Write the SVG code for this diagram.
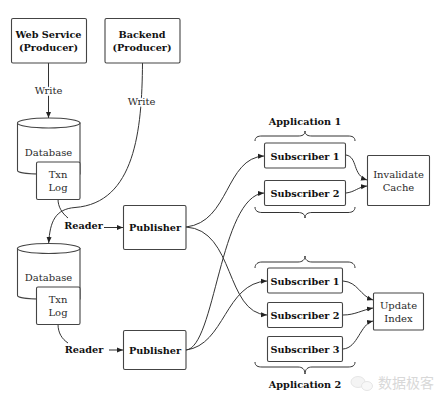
<svg xmlns="http://www.w3.org/2000/svg" width="446" height="405" viewBox="0 0 446 405">
<style>
text{font-family:"DejaVu Serif","Liberation Serif",serif;font-size:10px;fill:#2a2a2a;text-anchor:middle}
.b{font-weight:bold;fill:#111;font-size:9.700px}
.n{fill:#fff;stroke:#444;stroke-width:1.1}
.c{fill:none;stroke:#333;stroke-width:1}
.a{marker-end:url(#m)}
.l{paint-order:stroke;stroke:#fff;stroke-width:3px}
</style>
<defs><marker id="m" markerWidth="7" markerHeight="6" refX="6" refY="3" orient="auto" markerUnits="userSpaceOnUse"><path d="M0 0.500L6 3L0 5.500Z" fill="#222"/></marker></defs>
<rect width="446" height="405" fill="#fff"/>
<g id="connectors">
<path class="c a" d="M48.500 63V118"/>
<path class="c a" d="M142.500 63C142 130 135 203 75 207.500C55 209 50 222 48.700 243"/>
<path class="c" d="M58 199C58 207 62 213 68 218"/>
<path class="c a" d="M104 227.500H123"/>
<path class="c" d="M58 324C58 333 62 339 68 343"/>
<path class="c a" d="M109 350H123"/>
<path class="c a" d="M186 227C230 222 225 158 264 156"/>
<path class="c a" d="M186 227C235 230 225 313 267 315"/>
<path class="c a" d="M186 350C215 348 220 196 264 193"/>
<path class="c a" d="M186 350C225 345 225 283 267 281"/>
<path class="c a" d="M346 155C358 157 352 175 367 180"/>
<path class="c a" d="M346 193C355 192 358 187 367 186"/>
<path class="c a" d="M343 281C358 282 360 296 373 300"/>
<path class="c a" d="M343 315C355 315 362 310 373 308"/>
<path class="c a" d="M343 349C358 348 360 324 373 321"/>
</g>
<g id="web-service"><rect class="n" x="11.500" y="18.500" width="75" height="44.500" rx="1.500"/><text class="b" x="48.500" y="38">Web Service</text><text class="b" x="48.500" y="51">(Producer)</text></g>
<g id="backend"><rect class="n" x="105" y="18.500" width="75" height="44.500" rx="1.500"/><text class="b" x="142" y="38">Backend</text><text class="b" x="142" y="51">(Producer)</text></g>
<g id="write-1"><text class="l" x="48.500" y="94">Write</text></g>
<g id="write-2"><text class="l" x="141.500" y="105">Write</text></g>
<g id="database-1"><path class="n" d="M17.500 123V170.500C17.500 172.500 28 174 40 174H80V123Z"/><ellipse class="n" cx="48.700" cy="123" rx="31.300" ry="5"/><text x="48.500" y="156">Database</text></g>
<g id="txn-log-1"><rect class="n" x="36.500" y="162" width="43.500" height="37.500" rx="1.500"/><text x="58" y="178">Txn</text><text x="58" y="191">Log</text></g>
<g id="database-2"><path class="n" d="M17.500 248.500V295.500C17.500 297.500 28 299 40 299H80V248.500Z"/><ellipse class="n" cx="48.700" cy="248.500" rx="31.300" ry="5"/><text x="48.500" y="281">Database</text></g>
<g id="txn-log-2"><rect class="n" x="36.500" y="287" width="43.500" height="37.500" rx="1.500"/><text x="58" y="303">Txn</text><text x="58" y="316">Log</text></g>
<g id="reader-1"><text class="b" x="83.500" y="228.500">Reader</text></g>
<g id="reader-2"><text class="b" x="84" y="353">Reader</text></g>
<g id="publisher-1"><rect class="n" x="123.500" y="205.500" width="62.500" height="44" rx="1.500"/><text class="b" x="155" y="230.500">Publisher</text></g>
<g id="publisher-2"><rect class="n" x="123.500" y="330.500" width="62.500" height="39" rx="1.500"/><text class="b" x="155" y="354">Publisher</text></g>
<g id="application-1"><text class="b" x="305" y="125">Application 1</text><path class="c" d="M255 141C255 137 258 136 262 136H298C302 136 305 135 305 131C305 135 308 136 312 136H348C352 136 355 137 355 141"/><path class="c" d="M255 207C255 211 258 212.500 262 212.500H298C302 212.500 305 214 305 218C305 214 308 212.500 312 212.500H348C352 212.500 355 211 355 207"/></g>
<g id="a1-subscriber-1"><rect class="n" x="264.500" y="143" width="81" height="25" rx="1.500"/><text class="b" x="305" y="160">Subscriber 1</text></g>
<g id="a1-subscriber-2"><rect class="n" x="264.500" y="180.500" width="81" height="25" rx="1.500"/><text class="b" x="305" y="197">Subscriber 2</text></g>
<g id="invalidate-cache"><rect class="n" x="367.500" y="155.500" width="62" height="50" rx="1"/><text x="398.500" y="178">Invalidate</text><text x="398.500" y="191">Cache</text></g>
<g id="application-2"><text class="b" x="305" y="388">Application 2</text><path class="c" d="M255 268C255 264 258 262 262 262H298C302 262 305 260 305 256C305 260 308 262 312 262H348C352 262 355 264 355 268"/><path class="c" d="M255 362C255 366 258 367 262 367H298C302 367 305 369 305 374C305 369 308 367 312 367H348C352 367 355 366 355 362"/></g>
<g id="a2-subscriber-1"><rect class="n" x="267.500" y="268" width="75" height="25" rx="1.500"/><text class="b" x="305" y="285">Subscriber 1</text></g>
<g id="a2-subscriber-2"><rect class="n" x="267.500" y="302.500" width="75" height="25" rx="1.500"/><text class="b" x="305" y="319">Subscriber 2</text></g>
<g id="a2-subscriber-3"><rect class="n" x="267.500" y="336.500" width="75" height="25" rx="1.500"/><text class="b" x="305" y="353">Subscriber 3</text></g>
<g id="update-index"><rect class="n" x="373.500" y="293" width="50" height="37" rx="1"/><text x="398.500" y="309">Update</text><text x="398.500" y="322">Index</text></g>
<g id="watermark"><ellipse cx="358" cy="382" rx="7" ry="5.500" fill="#f4f4f4" stroke="#e6e6e6"/><ellipse cx="367" cy="386" rx="5.500" ry="4.500" fill="#f8f8f8" stroke="#e6e6e6"/><text x="406" y="388" style="font-family:'Noto Sans CJK SC',sans-serif;font-size:14px;fill:#d8d8d8">数据极客</text></g>
</svg>
